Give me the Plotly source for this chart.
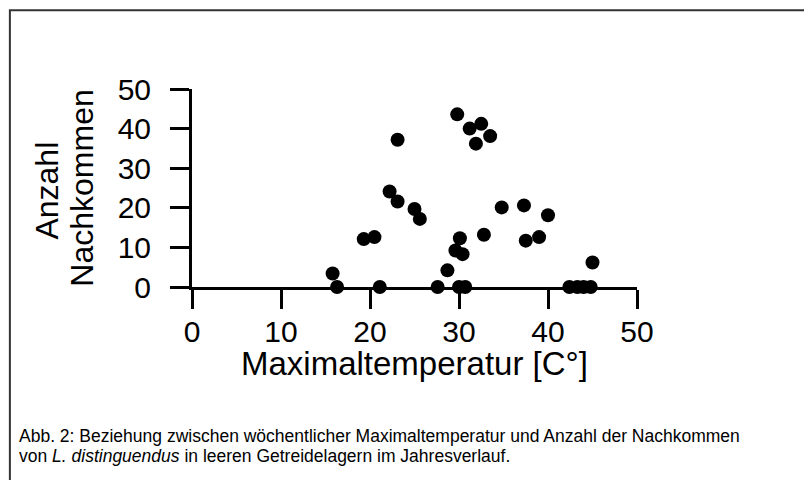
import plotly.graph_objects as go

# Data
temp_max = [15.8, 16.3, 19.3, 20.5, 21.1, 22.2, 23.1, 23.1, 25.0, 25.6,
            27.6, 28.7, 29.6, 30.1, 30.4, 30.0, 30.7, 29.8, 31.2, 32.5,
            31.9, 33.5, 32.8, 34.8, 37.3, 37.5, 39.0, 40.0, 42.4, 43.3,
            44.0, 44.8, 45.0]
nachkommen = [3.4, 0, 12.1, 12.6, 0, 24.1, 21.6, 37.2, 19.7, 17.2,
              0, 4.2, 9.2, 12.3, 8.3, 0, 0, 43.6, 40.0, 41.2,
              36.2, 38.1, 13.2, 20.1, 20.6, 11.7, 12.6, 18.1, 0, 0,
              0, 0, 6.2]
tick_vals = [0, 10, 20, 30, 40, 50]
x_title = "Maximaltemperatur [C°]"
y_title_lines = ["Anzahl", "Nachkommen"]
caption_lines = ["Abb. 2: Beziehung zwischen wöchentlicher Maximaltemperatur und Anzahl der Nachkommen",
                 "von <i>L. distinguendus</i> in leeren Getreidelagern im Jahresverlauf."]

FONT = "Liberation Sans, Arial, sans-serif"
# page has an 8px body margin; figure sized to fit the 812x480 window
OFF = 8
W, H = 812 - OFF, 480 - OFF
L = 192 - OFF
T = 89.3 - OFF
pw, ph = 444.7, 198.0
R = W - L - pw
B = H - T - ph


def px_x(p):
    """reference page pixel -> paper x"""
    return (p - OFF - L) / pw


def px_y(p):
    """reference page pixel -> paper y"""
    return (T + ph - (p - OFF)) / ph


fig = go.Figure()
fig.add_trace(go.Scatter(
    x=temp_max, y=nachkommen, mode="markers",
    marker=dict(color="black", size=14, line=dict(width=0)),
    cliponaxis=False, showlegend=False, hoverinfo="skip"))

axis_common = dict(
    showline=True, linecolor="black", linewidth=3,
    ticks="outside", ticklen=19, tickwidth=3, tickcolor="black",
    showgrid=False, zeroline=False, tickvals=tick_vals,
    tickfont=dict(family=FONT, size=30, color="black"),
    range=[0, 50], fixedrange=True,
)
fig.update_xaxes(**axis_common, ticklabelstandoff=-3)
fig.update_yaxes(**axis_common, ticklabelstandoff=13)

annotations = [
    dict(text=x_title, x=px_x(414), y=px_y(364), xref="paper", yref="paper",
         xanchor="center", yanchor="middle", showarrow=False,
         font=dict(family=FONT, size=33, color="black")),
    dict(text=y_title_lines[0], x=px_x(47), y=px_y(191), xref="paper", yref="paper",
         xanchor="center", yanchor="middle", textangle=-90, showarrow=False,
         font=dict(family=FONT, size=32, color="black")),
    dict(text=y_title_lines[1], x=px_x(82), y=px_y(188), xref="paper", yref="paper",
         xanchor="center", yanchor="middle", textangle=-90, showarrow=False,
         font=dict(family=FONT, size=32, color="black")),
    dict(text=caption_lines[0], x=px_x(17), y=px_y(436), xref="paper", yref="paper",
         xanchor="left", yanchor="middle", align="left", showarrow=False,
         font=dict(family=FONT, size=17.5, color="black")),
    dict(text=caption_lines[1], x=px_x(17), y=px_y(456), xref="paper", yref="paper",
         xanchor="left", yanchor="middle", align="left", showarrow=False,
         font=dict(family=FONT, size=17.5, color="black")),
]

shapes = [dict(type="rect", xref="paper", yref="paper",
               x0=px_x(10), x1=px_x(840), y0=px_y(10.5), y1=px_y(520),
               line=dict(color="#333333", width=2), fillcolor="rgba(0,0,0,0)")]

fig.update_layout(
    width=W, height=H, margin=dict(l=L, r=R, t=T, b=B, pad=0),
    paper_bgcolor="white", plot_bgcolor="white",
    annotations=annotations, shapes=shapes,
)

fig.write_html("out.html")
